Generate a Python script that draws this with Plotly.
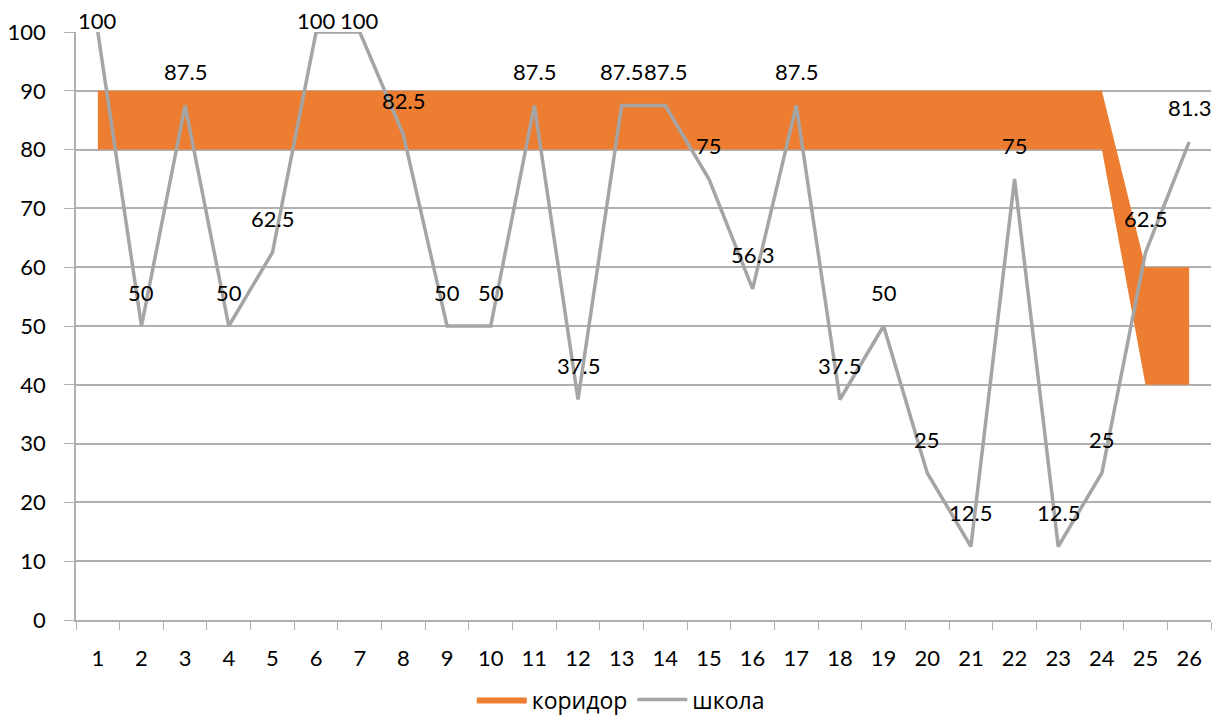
import plotly.graph_objects as go

# Categories (lessons / items) and series values
categories = list(range(1, 27))
corridor_low = [80] * 24 + [40, 40]
corridor_high = [90] * 24 + [60, 60]
school = [100, 50, 87.5, 50, 62.5, 100, 100, 82.5, 50, 50, 87.5, 37.5, 87.5,
          87.5, 75, 56.3, 87.5, 37.5, 50, 25, 12.5, 75, 12.5, 25, 62.5, 81.3]
y_ticks = list(range(0, 101, 10))

ORANGE = "#ED7D31"
GREY = "#A5A5A5"
GRID = "#B0B0B0"
FONT = "Lato"
LEGEND_FONT = "Open Sans"
FS = 22

W, H = 1216, 722
M_L, M_R, M_T, M_B = 76, 5, 32, 102

fig = go.Figure()

# Corridor band: lower boundary (invisible) plus upper boundary filled down to it
fig.add_trace(go.Scatter(
    x=categories, y=corridor_low, mode="lines",
    line=dict(width=0, color=ORANGE), showlegend=False, hoverinfo="skip"))
fig.add_trace(go.Scatter(
    x=categories, y=corridor_high, mode="lines", name="коридор",
    line=dict(width=0, color=ORANGE), fill="tonexty", fillcolor=ORANGE))

# School results line
fig.add_trace(go.Scatter(
    x=categories, y=school, mode="lines", name="школа",
    line=dict(color=GREY, width=3.5), cliponaxis=False))

# Value labels above each point; labels at the top stay inside the chart
annotations = []
for c, v in zip(categories, school):
    shift = 12 if v >= 95 else 34
    annotations.append(dict(
        x=c, y=v, xref="x", yref="y", text=f"{v:g}", showarrow=False,
        yshift=shift, font=dict(family=FONT, size=FS, color="#000000")))

fig.update_layout(
    width=W, height=H,
    margin=dict(l=M_L, r=M_R, t=M_T, b=M_B, autoexpand=False),
    paper_bgcolor="white", plot_bgcolor="white",
    font=dict(family=FONT, size=FS, color="#000000"),
    annotations=annotations,
    showlegend=True,
    legend=dict(orientation="h", x=0.48, xanchor="center", y=-0.172,
                yanchor="bottom", font=dict(family=LEGEND_FONT, size=23),
                itemwidth=50, traceorder="normal"),
    xaxis=dict(range=[0.5, 26.5], tickvals=categories,
               ticktext=[str(c) for c in categories], ticks="",
               minor=dict(tick0=0.5, dtick=1, ticks="outside", ticklen=8,
                          tickcolor=GRID, showgrid=False),
               showgrid=False, zeroline=False,
               showline=True, linecolor=GRID, linewidth=1.5,
               tickfont=dict(family=FONT, size=FS), ticklabelstandoff=18),
    yaxis=dict(range=[0, 100], tickvals=y_ticks, ticks="outside", ticklen=10,
               tickcolor=GRID, showgrid=True, gridcolor=GRID, gridwidth=1.5,
               showline=True, linecolor=GRID, linewidth=1.5, zeroline=False,
               tickfont=dict(family=FONT, size=FS), ticklabelstandoff=14),
)

fig.write_html("out.html")
